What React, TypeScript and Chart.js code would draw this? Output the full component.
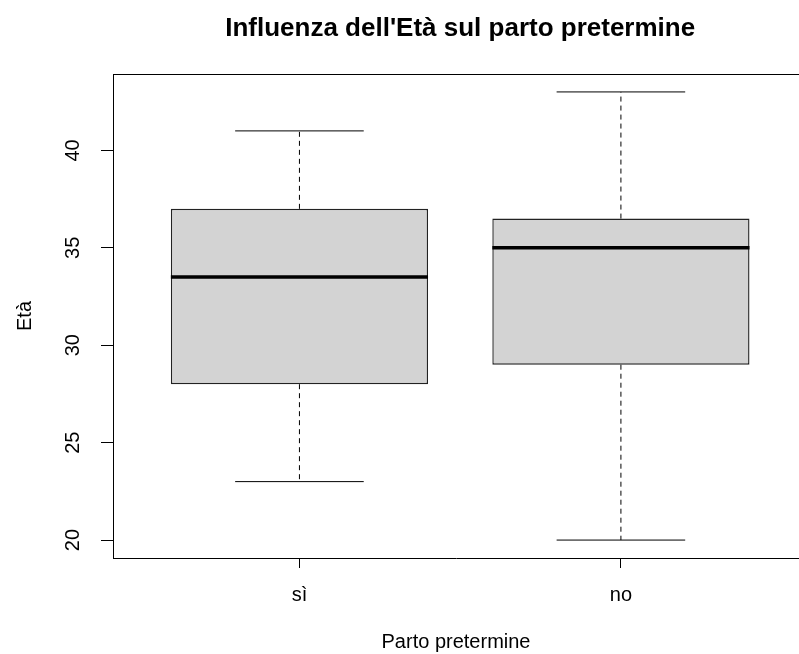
import React, { useEffect, useRef } from "react";
import { Chart, registerables } from "chart.js";

Chart.register(...registerables);

// ---- data ----
const categories = ["sì", "no"];
const positions = [1, 2];
const whiskerLow = [23, 20];
const q1 = [28, 29];
const median = [33.5, 35];
const q3 = [37, 36.5];
const whiskerHigh = [41, 43];
const yTicks = [20, 25, 30, 35, 40];

const TITLE = "Influenza dell'Età sul parto pretermine";
const X_TITLE = "Parto pretermine";
const Y_TITLE = "Età";

// ---- style ----
const BOX_WIDTH = 0.8;
const STAPLE_WIDTH = 0.4;
const X_RANGE = [0.42, 2.58];
const X_VISIBLE_MAX = 2.554;
const Y_RANGE = [19.08, 43.92];
const FONT = "'Liberation Sans', Arial, sans-serif";

const framePlugin = {
  id: "frameAndTitle",
  afterDraw(chart: any) {
    const { ctx, chartArea, scales } = chart;
    ctx.save();
    ctx.strokeStyle = "#000";
    ctx.lineWidth = 1;
    ctx.beginPath();
    const y = Math.round(chartArea.top) + 0.5;
    ctx.moveTo(chartArea.left, y);
    ctx.lineTo(chartArea.right, y);
    ctx.stroke();
    const left = chartArea.left;
    const right = scales.x.getPixelForValue(X_RANGE[1]);
    ctx.font = `bold 26px ${FONT}`;
    ctx.textAlign = "center";
    ctx.textBaseline = "alphabetic";
    ctx.fillStyle = "#000";
    ctx.fillText(TITLE, (left + right) / 2, chartArea.top - 38);
    ctx.restore();
  },
};

export default function App() {
  const ref = useRef<HTMLCanvasElement>(null);

  useEffect(() => {
    if (!ref.current) return;
    const lineDs = (data: any[], opts: any = {}) => ({
      type: "line",
      data,
      borderColor: "#000",
      borderWidth: 1,
      pointRadius: 0,
      pointHoverRadius: 0,
      fill: false,
      tension: 0,
      order: 0,
      ...opts,
    });

    const datasets: any[] = [
      {
        type: "bar",
        data: positions.map((p, i) => ({ x: p, y: [q1[i], q3[i]] })),
        backgroundColor: "#d3d3d3",
        borderColor: "#222",
        borderWidth: 1.4,
        borderSkipped: false,
        barPercentage: BOX_WIDTH,
        categoryPercentage: 1,
        order: 2,
      },
    ];
    positions.forEach((p, i) => {
      datasets.push(
        lineDs(
          [
            { x: p, y: q3[i] },
            { x: p, y: whiskerHigh[i] },
          ],
          { borderDash: [5, 4] }
        )
      );
      datasets.push(
        lineDs(
          [
            { x: p, y: q1[i] },
            { x: p, y: whiskerLow[i] },
          ],
          { borderDash: [5, 4] }
        )
      );
      datasets.push(
        lineDs([
          { x: p - STAPLE_WIDTH / 2, y: whiskerHigh[i] },
          { x: p + STAPLE_WIDTH / 2, y: whiskerHigh[i] },
        ])
      );
      datasets.push(
        lineDs([
          { x: p - STAPLE_WIDTH / 2, y: whiskerLow[i] },
          { x: p + STAPLE_WIDTH / 2, y: whiskerLow[i] },
        ])
      );
      datasets.push(
        lineDs(
          [
            { x: p - BOX_WIDTH / 2, y: median[i] },
            { x: p + BOX_WIDTH / 2, y: median[i] },
          ],
          { borderWidth: 3.5 }
        )
      );
    });

    const chart = new Chart(ref.current, {
      type: "bar",
      data: { datasets },
      plugins: [framePlugin],
      options: {
        animation: false,
        responsive: false,
        devicePixelRatio: 1,
        layout: { padding: { top: 74, left: 0, right: 0, bottom: 0 } },
        plugins: {
          legend: { display: false },
          tooltip: { enabled: false },
          title: { display: false },
        },
        scales: {
          x: {
            type: "linear",
            min: X_RANGE[0],
            max: X_VISIBLE_MAX,
            offset: false,
            afterBuildTicks: (s: any) => {
              s.ticks = positions.map((v) => ({ value: v }));
            },
            afterFit: (s: any) => {
              s.height = 96;
            },
            grid: {
              display: true,
              drawOnChartArea: false,
              drawTicks: true,
              tickLength: 10,
              color: "#000",
              offset: false,
            },
            border: { display: true, color: "#000", width: 1 },
            ticks: {
              callback: (_v: any, index: number) => categories[index] ?? "",
              color: "#000",
              font: { family: FONT, size: 20 },
              padding: 15,
              minRotation: 0,
              maxRotation: 0,
              autoSkip: false,
            },
            title: {
              display: true,
              text: X_TITLE,
              color: "#000",
              font: { family: FONT, size: 20 },
              padding: { top: 0, bottom: 0 },
            },
          },
          y: {
            type: "linear",
            min: Y_RANGE[0],
            max: Y_RANGE[1],
            afterBuildTicks: (s: any) => {
              s.ticks = yTicks.map((v) => ({ value: v }));
            },
            afterFit: (s: any) => {
              s.width = 113;
            },
            grid: {
              display: true,
              drawOnChartArea: false,
              drawTicks: true,
              tickLength: 12,
              color: "#000",
            },
            border: { display: true, color: "#000", width: 1 },
            ticks: {
              color: "#000",
              font: { family: FONT, size: 20 },
              padding: 16,
              minRotation: 90,
              maxRotation: 90,
              crossAlign: "center",
              autoSkip: false,
              callback: (v: any) => String(v),
            },
            title: {
              display: true,
              text: Y_TITLE,
              color: "#000",
              font: { family: FONT, size: 20 },
              padding: { top: 13, bottom: 0 },
            },
          },
        },
      } as any,
    } as any);

    return () => chart.destroy();
  }, []);

  return (
    <div style={{ position: "fixed", left: 0, top: 0, width: 799, height: 654, background: "#fff" }}>
      <canvas ref={ref} width={799} height={654} style={{ display: "block" }} />
    </div>
  );
}
